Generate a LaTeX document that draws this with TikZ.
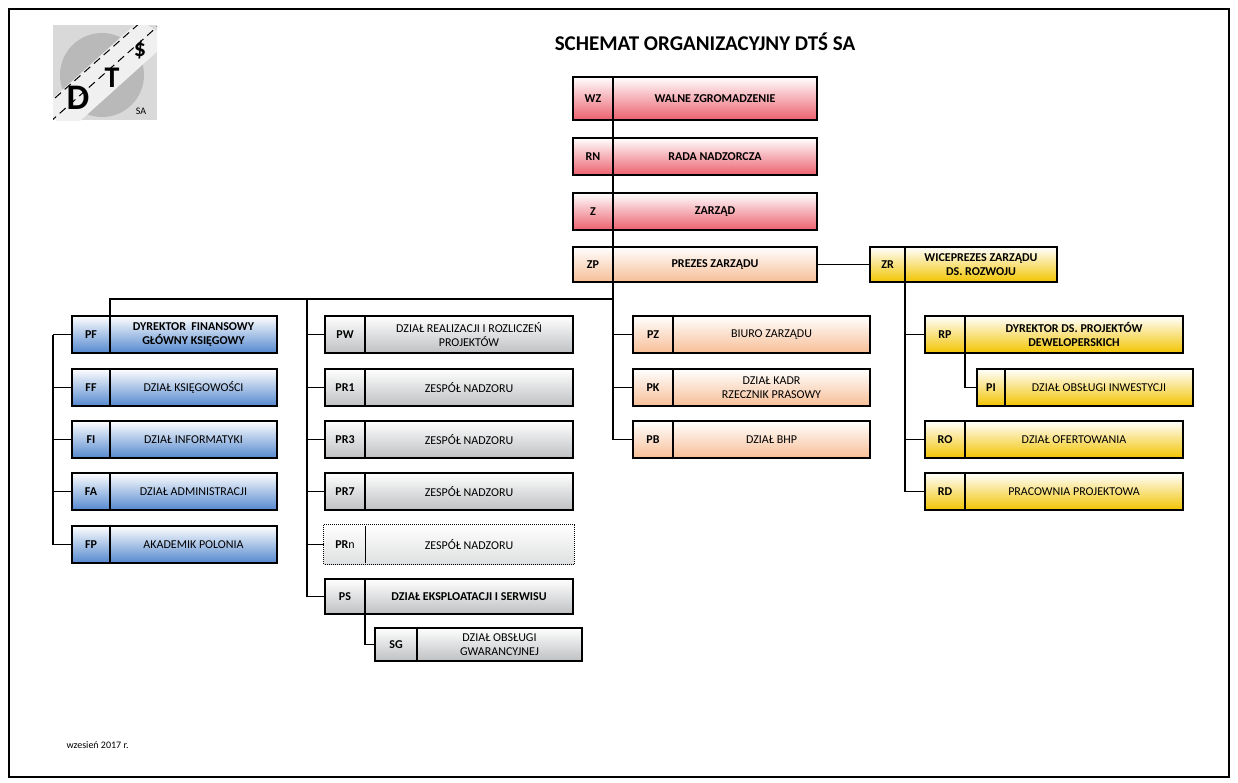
\documentclass[tikz,border=0pt]{standalone}
\usepackage{fontspec}
\setmainfont{Carlito}
\usetikzlibrary{fit, positioning}
\definecolor{wzred}{RGB}{236,96,110}
\definecolor{zporange}{RGB}{247,190,150}
\definecolor{fblue}{RGB}{84,136,206}
\definecolor{pgray}{RGB}{190,192,194}
\definecolor{ryellow}{RGB}{242,196,0}
\tikzset{
    unitbox/.style={draw, line width=2.2pt, inner sep=0pt},
    codetext/.style={font=\fontsize{12}{14}\selectfont\bfseries, align=center},
    nametext/.style={font=\fontsize{12}{14}\selectfont, align=center},
    link/.style={line width=1.2pt}
}
% name, left, top, right, bottom, divider, code, label, colour
\newcommand\orgunit[9]{%
    \node[unitbox, top color=white, bottom color=#9, fit={(#2,#3) (#4,#5)}] (#1) {};
    \draw[line width=1.2pt] (#6,#3) coordinate (#1-t) -- (#6,#5) coordinate (#1-d);
    \node[codetext] at ({(#2+#6)/2},{(#3+#5)/2}) (#1-code) {#7};
    \node[nametext] at ({(#6+#4)/2},{(#3+#5)/2}) (#1-name) {#8};
}
\begin{document}
\begin{tikzpicture}[x=1pt, y=-1pt]
    \useasboundingbox (0,0) rectangle (1238,782);
    \draw[line width=1.5pt] (9,9) rectangle (1229,777);

    % logo
    \begin{scope}
        \clip (53,25) rectangle (157,120);
        \fill[gray!30] (53,25) rectangle (157,120);
        \fill[gray!55] (102,75) circle (42);
        \fill[gray!12] (40,110) -- (140,20) -- (170,40) -- (70,130) -- cycle;
        \draw[dashed, line width=1pt, dash pattern=on 8pt off 5pt] (50,122) -- (158,26);
        \draw[dashed, line width=1pt, dash pattern=on 8pt off 5pt] (55,98) -- (150,14);
    \end{scope}
    \node[font=\fontsize{36}{36}\selectfont\bfseries] (logoD) at (78,98) {D};
    \node[font=\fontsize{30}{30}\selectfont\bfseries] (logoT) at (112,78) {T};
    \node[font=\fontsize{24}{24}\selectfont\bfseries] (logoS) at (140,50) {\$};
    \node[font=\fontsize{10}{10}\selectfont\rmfamily] (logoSA) at (141,111) {SA};

    \node[font=\fontsize{21}{24}\selectfont\bfseries] (title) at (705,42) {SCHEMAT ORGANIZACYJNY DTŚ SA};

    % top
    \orgunit{WZ}{573}{77}{817}{120}{613}{WZ}{\textbf{WALNE ZGROMADZENIE}}{wzred}
    \orgunit{RN}{573}{138}{817}{175}{613}{RN}{\textbf{RADA NADZORCZA}}{wzred}
    \orgunit{Z}{573}{193}{817}{230}{613}{Z}{\textbf{ZARZĄD}}{wzred}
    \orgunit{ZP}{573}{247}{817}{282}{613}{ZP}{\textbf{PREZES ZARZĄDU}}{zporange}
    \orgunit{ZR}{870}{247}{1057}{282}{905}{ZR}{\textbf{WICEPREZES ZARZĄDU}\\\textbf{DS. ROZWOJU}}{ryellow}

    % finance
    \orgunit{PF}{72}{316}{277}{353}{110}{PF}{\textbf{DYREKTOR~ FINANSOWY}\\\textbf{GŁÓWNY KSIĘGOWY}}{fblue}
    \orgunit{FF}{72}{369}{277}{406}{110}{FF}{DZIAŁ KSIĘGOWOŚCI}{fblue}
    \orgunit{FI}{72}{421}{277}{458}{110}{FI}{DZIAŁ INFORMATYKI}{fblue}
    \orgunit{FA}{72}{473}{277}{510}{110}{FA}{DZIAŁ ADMINISTRACJI}{fblue}
    \orgunit{FP}{72}{526}{277}{563}{110}{FP}{AKADEMIK POLONIA}{fblue}

    % projects
    \orgunit{PW}{325}{316}{573}{353}{365}{PW}{DZIAŁ REALIZACJI I ROZLICZEŃ\\PROJEKTÓW}{pgray}
    \orgunit{PR1}{325}{369}{573}{406}{365}{PR1}{ZESPÓŁ NADZORU}{pgray}
    \orgunit{PR3}{325}{421}{573}{458}{365}{PR3}{ZESPÓŁ NADZORU}{pgray}
    \orgunit{PR7}{325}{473}{573}{510}{365}{PR7}{ZESPÓŁ NADZORU}{pgray}
    \orgunit{PRn}{325}{526}{573}{563}{365}{PR\textmd{n}}{ZESPÓŁ NADZORU}{pgray!50}
    \orgunit{PS}{325}{579}{573}{614}{365}{PS}{\textbf{DZIAŁ EKSPLOATACJI I SERWISU}}{pgray}
    \orgunit{SG}{375}{628}{582}{661}{417}{SG}{DZIAŁ OBSŁUGI\\GWARANCYJNEJ}{pgray}
    \draw[line width=1pt, densely dotted, fill=white, top color=white, bottom color=pgray!50] (PRn.north west) rectangle (PRn.south east);
    \draw[line width=0.8pt] (PRn-t) -- (PRn-d);
    \node[codetext] at (PRn-code) {PR\textmd{n}};
    \node[nametext] at (PRn-name) {ZESPÓŁ NADZORU};

    % president
    \orgunit{PZ}{633}{316}{870}{353}{673}{PZ}{BIURO ZARZĄDU}{zporange}
    \orgunit{PK}{633}{369}{870}{406}{673}{PK}{DZIAŁ KADR\\RZECZNIK PRASOWY}{zporange}
    \orgunit{PB}{633}{421}{870}{458}{673}{PB}{DZIAŁ BHP}{zporange}

    % development
    \orgunit{RP}{925}{316}{1183}{353}{965}{RP}{\textbf{DYREKTOR DS. PROJEKTÓW}\\\textbf{DEWELOPERSKICH}}{ryellow}
    \orgunit{PI}{977}{369}{1193}{406}{1005}{PI}{DZIAŁ OBSŁUGI INWESTYCJI}{ryellow}
    \orgunit{RO}{925}{421}{1183}{458}{965}{RO}{DZIAŁ OFERTOWANIA}{ryellow}
    \orgunit{RD}{925}{473}{1183}{510}{965}{RD}{PRACOWNIA PROJEKTOWA}{ryellow}

    % connectors
    \coordinate (bus) at (613,299);
    \coordinate (pbus) at (307,299);
    \begin{scope}[on background layer/.style={}]
    \draw[link] (WZ-d) -- (RN-t) (RN-d) -- (Z-t) (Z-d) -- (ZP-t);
    \draw[link] (ZP-d) |- (PZ.west);
    \draw[link] (ZP-d) |- (PK.west);
    \draw[link] (ZP-d) |- (PB.west);
    \draw[link] (PF-t) |- (bus);
    \draw[link] (ZP.east) -- (ZR.west);
    \foreach \u in {PW, PR1, PR3, PR7, PRn, PS}
        \draw[link] (pbus) |- (\u.west);
    \foreach \u in {PF, FF, FI, FA, FP}
        \draw[link] (\u.west) -- ++(-18,0);
    \draw[link] ([xshift=-18pt]PF.west) -- ([xshift=-18pt]FP.west);
    \foreach \u in {RP, RO, RD}
        \draw[link] (ZR-d) |- (\u.west);
    \draw[link] (RP-d) |- (PI.west);
    \draw[link] (PS-d) |- (SG.west);
    \end{scope}

    \node[font=\fontsize{10}{12}\selectfont, anchor=west] (date) at (63,745) {wzesień 2017 r.};
\end{tikzpicture}
\end{document}
